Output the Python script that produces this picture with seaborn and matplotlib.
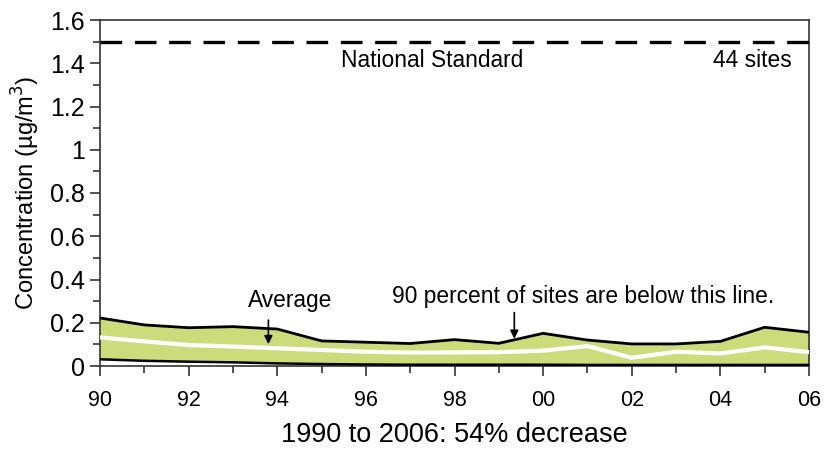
import numpy as np
import pandas as pd
import matplotlib
matplotlib.use("Agg")
import matplotlib.pyplot as plt
import seaborn as sns

years = list(range(1990, 2007))
pct90 = [0.222, 0.190, 0.177, 0.182, 0.171, 0.116, 0.110, 0.104, 0.122,
         0.105, 0.151, 0.120, 0.102, 0.102, 0.114, 0.179, 0.156]
average = [0.132, 0.114, 0.097, 0.090, 0.082, 0.074, 0.066, 0.062, 0.063,
           0.064, 0.071, 0.092, 0.038, 0.066, 0.058, 0.086, 0.064]
pct10 = [0.031, 0.024, 0.020, 0.017, 0.012, 0.009, 0.007, 0.006, 0.006,
         0.006, 0.006, 0.005, 0.005, 0.005, 0.005, 0.005, 0.005]
standard = 1.5
x_ticks = [1990, 1992, 1994, 1996, 1998, 2000, 2002, 2004, 2006]
x_labels = ["90", "92", "94", "96", "98", "00", "02", "04", "06"]
y_ticks = [0, 0.2, 0.4, 0.6, 0.8, 1.0, 1.2, 1.4, 1.6]
y_labels = ["0", "0.2", "0.4", "0.6", "0.8", "1", "1.2", "1.4", "1.6"]

df = pd.DataFrame({"year": years, "p90": pct90, "avg": average, "p10": pct10})

sns.set_theme(style="ticks", rc={"text.color": "black", "axes.labelcolor": "black",
                                 "xtick.color": "black", "ytick.color": "black"})
plt.rcParams["font.family"] = ["Liberation Sans", "DejaVu Sans"]

fig = plt.figure(figsize=(8.35, 4.54), dpi=100)
ax = fig.add_axes([100 / 835, 1 - 366 / 454, 709 / 835, 346 / 454])

# band between the 10th and 90th percentile sites
ax.fill_between(df["year"], df["p10"], df["p90"], color="#cddc7a", lw=0, zorder=1)
sns.lineplot(data=df, x="year", y="avg", color="white", lw=3.0, ax=ax, zorder=3)
sns.lineplot(data=df, x="year", y="p90", color="black", lw=2.0, ax=ax, zorder=4)
sns.lineplot(data=df, x="year", y="p10", color="black", lw=1.8, ax=ax, zorder=4)
ax.axhline(standard, color="black", lw=2.4, dashes=(6.5, 3.8), zorder=4)

ax.set_xlim(1990, 2006)
ax.set_ylim(0, 1.6)
ax.set_xticks(x_ticks)
ax.set_xticklabels(x_labels, fontsize=15.5)
ax.set_xticks(years, minor=True)
ax.set_yticks(y_ticks)
ax.set_yticklabels(y_labels, fontsize=18)
ax.set_yticks(np.arange(0.1, 1.6, 0.2), minor=True)
ax.tick_params(which="major", length=7, width=1.1, color="#222222", pad=4)
ax.tick_params(which="minor", length=5, width=1.1, color="#222222")
ax.tick_params(axis="x", which="major", pad=10)

for s in ax.spines.values():
    s.set_color("#333333")
    s.set_linewidth(1.2)

ax.set_xlabel("1990 to 2006: 54% decrease", fontsize=19.5, labelpad=8)
ax.set_ylabel("Concentration (µg/m$^3$)", fontsize=17, labelpad=6)

ax.text(1997.5, 1.415, "National Standard", ha="center", va="center", fontsize=16.4)
ax.text(2005.62, 1.415, "44 sites", ha="right", va="center", fontsize=16.4)

ax.text(1994.3, 0.305, "Average", ha="center", va="center", fontsize=16.4)
ax.annotate("", xy=(1993.8, 0.088), xytext=(1993.8, 0.225),
            arrowprops=dict(arrowstyle="-|>", color="black", lw=1.2, mutation_scale=12))
ax.text(2000.9, 0.32, "90 percent of sites are below this line.", ha="center",
        va="center", fontsize=16.4)
ax.annotate("", xy=(1999.35, 0.113), xytext=(1999.35, 0.26),
            arrowprops=dict(arrowstyle="-|>", color="black", lw=1.2, mutation_scale=12))

fig.savefig("out.png", dpi=100)
